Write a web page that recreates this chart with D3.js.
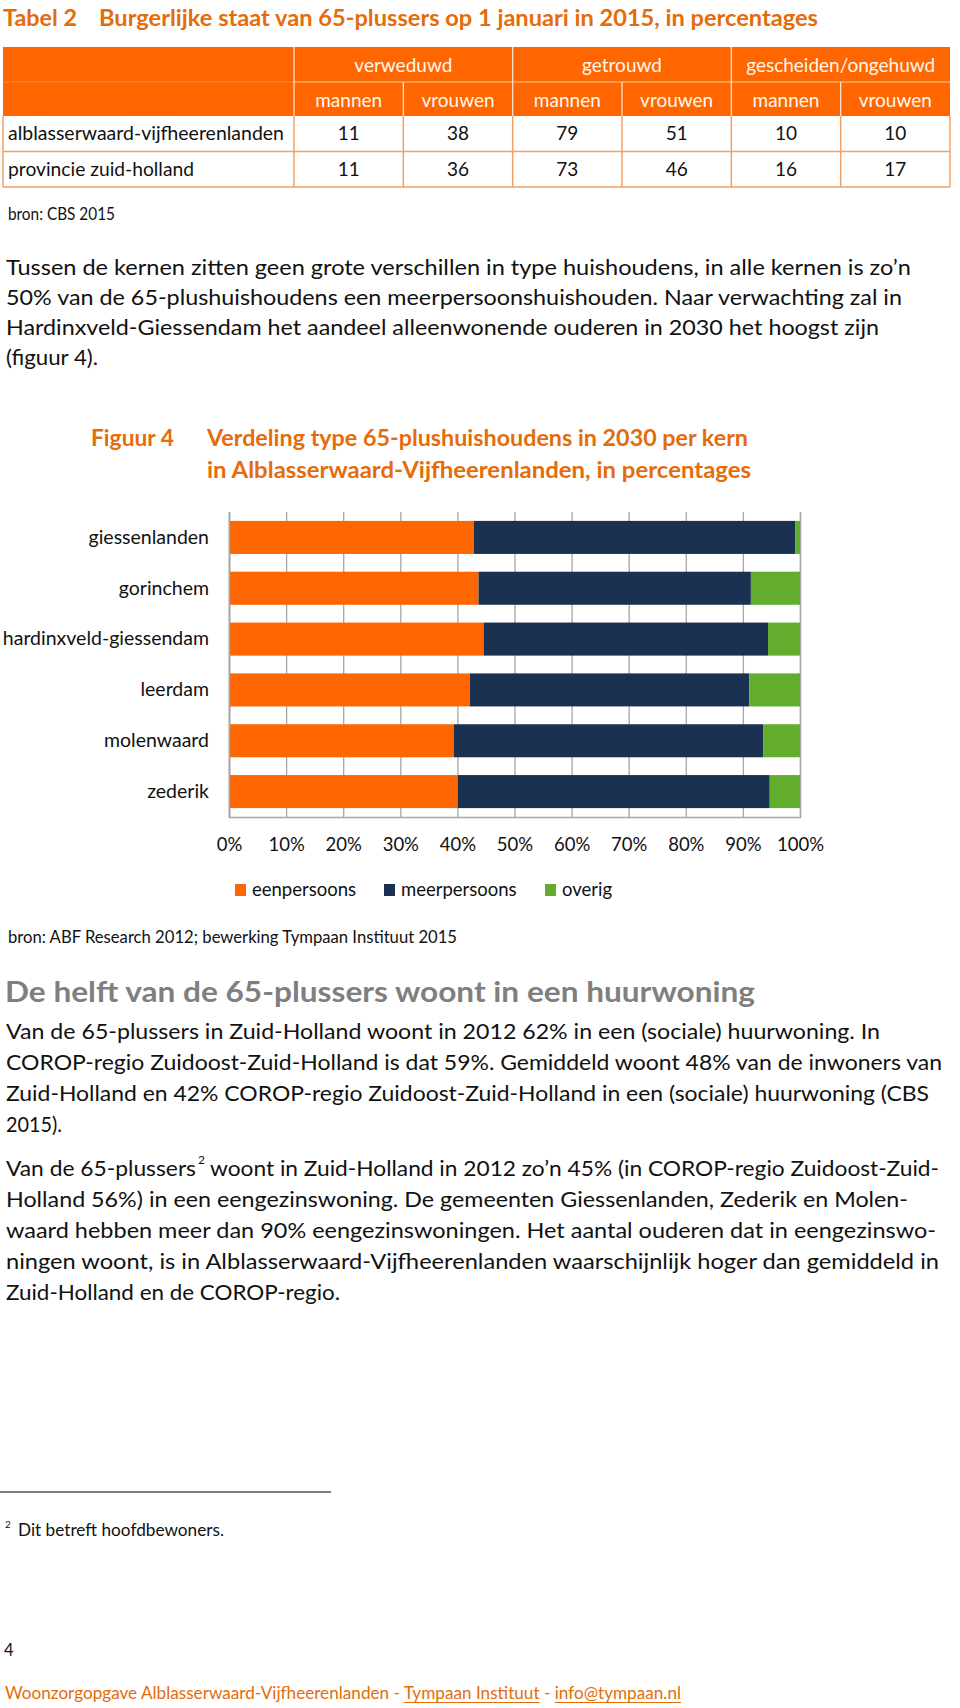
<!DOCTYPE html>
<html>
<head>
<meta charset="utf-8">
<script src="https://cdn.jsdelivr.net/npm/d3@7"></script>
<style>
  html, body { margin: 0; padding: 0; background: #fff; }
  svg { display: block; font-family: Lato, "Open Sans", sans-serif; }
</style>
</head>
<body>
<script>
// ---------- DATA ----------
const tableGroups = ["verweduwd", "getrouwd", "gescheiden/ongehuwd"];
const tableSub = ["mannen", "vrouwen"];
const tableRows = ["alblasserwaard-vijfheerenlanden", "provincie zuid-holland"];
const tableAV = [11, 38, 79, 51, 10, 10];
const tableZH = [11, 36, 73, 46, 16, 17];

const categories = ["giessenlanden", "gorinchem", "hardinxveld-giessendam", "leerdam", "molenwaard", "zederik"];
const eenpersoons = [42.9, 43.7, 44.6, 42.2, 39.4, 40.1];
const meerpersoons = [56.3, 47.7, 49.8, 48.9, 54.2, 54.6];
const overig = [0.8, 8.6, 5.6, 8.9, 6.4, 5.3];
const seriesNames = ["eenpersoons", "meerpersoons", "overig"];
const xTicks = [0, 10, 20, 30, 40, 50, 60, 70, 80, 90, 100];

// ---------- SETUP ----------
const W = 960, H = 1708;
const ORANGE_TXT = "#E46C0A";
const ORANGE = "#FF6600";
const NAVY = "#1B3151";
const GREEN = "#63AD2E";
const colors = [ORANGE, NAVY, GREEN];

const svg = d3.select("body").append("svg").attr("width", W).attr("height", H);

function txt(g, x, y, s, o = {}) {
  const t = g.append("text")
    .attr("x", x).attr("y", y).attr("dy", "0.35em")
    .attr("font-size", o.size || 18)
    .attr("font-weight", o.weight || "normal")
    .attr("fill", o.fill || "#111")
    .attr("text-anchor", o.anchor || "start")
    .text(s);
  if (o.width) t.attr("textLength", o.width).attr("lengthAdjust", "spacingAndGlyphs");
  return t;
}

// ---------- TITLE ----------
txt(svg, 3, 18, "Tabel 2", { size: 23, weight: "bold", fill: ORANGE_TXT, width: 74 });
txt(svg, 99, 18, "Burgerlijke staat van 65-plussers op 1 januari in 2015, in percentages",
  { size: 23, weight: "bold", fill: ORANGE_TXT, width: 719 });

// ---------- TABLE ----------
const tLeft = 3, tRight = 950, labelEnd = 294;
const tTop = 47, tMid = 82, tHead = 116, rowH = 35.5;
const colX = d3.scaleBand().domain(d3.range(6)).range([labelEnd, tRight]);
const tg = svg.append("g");
tg.append("rect").attr("x", tLeft).attr("y", tTop).attr("width", tRight - tLeft).attr("height", tHead - tTop).attr("fill", ORANGE);
// header lines
tg.append("line").attr("x1", labelEnd).attr("x2", tRight).attr("y1", tMid).attr("y2", tMid).attr("stroke", "#FFC9A0").attr("stroke-width", 1.2);
tg.append("line").attr("x1", tLeft).attr("x2", labelEnd).attr("y1", tMid).attr("y2", tMid).attr("stroke", "#FF8A3D").attr("stroke-width", 1);
tableGroups.forEach((gname, i) => {
  const x0 = colX(i * 2);
  tg.append("line").attr("x1", x0).attr("x2", x0).attr("y1", tTop).attr("y2", tHead).attr("stroke", "#FFE2CC").attr("stroke-width", 1.3);
  txt(tg, x0 + colX.bandwidth(), (tTop + tMid) / 2 + 1, gname, { size: 19, fill: "#FFF6EE", anchor: "middle" });
});
d3.range(6).forEach(i => {
  const x0 = colX(i);
  if (i % 2 === 1) tg.append("line").attr("x1", x0).attr("x2", x0).attr("y1", tMid).attr("y2", tHead).attr("stroke", "#FFE2CC").attr("stroke-width", 1.3);
  txt(tg, x0 + colX.bandwidth() / 2, (tMid + tHead) / 2 + 1, tableSub[i % 2], { size: 19, fill: "#FFF6EE", anchor: "middle" });
});
// body
const bodyVals = [tableAV, tableZH];
const lineCol = "#F3A163";
const labelWidths = [276, 186];
tableRows.forEach((r, ri) => {
  const yc = tHead + rowH * ri + rowH / 2;
  txt(tg, 8, yc, r, { size: 19, width: labelWidths[ri] });
  bodyVals[ri].forEach((v, ci) => {
    txt(tg, colX(ci) + colX.bandwidth() / 2, yc, String(v), { size: 19, anchor: "middle" });
  });
  tg.append("line").attr("x1", tLeft).attr("x2", tRight).attr("y1", tHead + rowH * (ri + 1)).attr("y2", tHead + rowH * (ri + 1)).attr("stroke", lineCol).attr("stroke-width", 1.5);
});
[tLeft, ...d3.range(6).map(i => colX(i)), tRight].forEach(x => {
  tg.append("line").attr("x1", x).attr("x2", x).attr("y1", tHead).attr("y2", tHead + rowH * 2).attr("stroke", lineCol).attr("stroke-width", 1.5);
});
txt(svg, 8, 214, "bron: CBS 2015", { size: 16.5, width: 107 });

// ---------- PARAGRAPH 1 ----------
const p1 = [
  ["Tussen de kernen zitten geen grote verschillen in type huishoudens, in alle kernen is zo’n", 268, 905],
  ["50% van de 65-plushuishoudens een meerpersoonshuishouden. Naar verwachting zal in", 298, 896],
  ["Hardinxveld-Giessendam het aandeel alleenwonende ouderen in 2030 het hoogst zijn", 328, 873],
  ["(figuur 4).", 358, 92]
];
p1.forEach(([s, y, w]) => txt(svg, 6, y, s, { size: 21, width: w }));

// ---------- FIGURE TITLE ----------
txt(svg, 91, 438, "Figuur 4", { size: 23, weight: "bold", fill: ORANGE_TXT, width: 83 });
txt(svg, 207, 438, "Verdeling type 65-plushuishoudens in 2030 per kern", { size: 23, weight: "bold", fill: ORANGE_TXT, width: 541 });
txt(svg, 207, 470, "in Alblasserwaard-Vijfheerenlanden, in percentages", { size: 23, weight: "bold", fill: ORANGE_TXT, width: 544 });

// ---------- CHART ----------
const px0 = 229, px1 = 800, py0 = 512, py1 = 817;
const x = d3.scaleLinear().domain([0, 100]).range([px0, px1]);
const y = d3.scaleBand().domain(categories).range([py0, py1]).paddingInner(0.35).paddingOuter(0.175);
const chart = svg.append("g");

// gridlines via axis
const gx = chart.append("g").attr("transform", `translate(0,${py1})`)
  .call(d3.axisBottom(x).tickValues(xTicks).tickSize(-(py1 - py0)).tickFormat(d => d + "%"));
gx.select(".domain").attr("stroke", "#A6A6A6").attr("stroke-width", 1.5);
gx.selectAll(".tick line").attr("stroke", "#A6A6A6").attr("stroke-width", 1.3);
gx.selectAll(".tick text").attr("y", 28).attr("dy", "0.35em").attr("font-size", 18.5).attr("fill", "#111").attr("font-family", "Lato, sans-serif");

// stacked bars
const rows = categories.map((c, i) => ({ cat: c, eenpersoons: eenpersoons[i], meerpersoons: meerpersoons[i], overig: overig[i] }));
const stack = d3.stack().keys(seriesNames)(rows);
chart.selectAll("g.series").data(stack).join("g").attr("class", "series")
  .attr("fill", (d, i) => colors[i])
  .selectAll("rect").data(d => d).join("rect")
  .attr("x", d => x(d[0]))
  .attr("width", d => x(d[1]) - x(d[0]))
  .attr("y", d => y(d.data.cat))
  .attr("height", y.bandwidth());

// left axis
const gy = chart.append("g").attr("transform", `translate(${px0},0)`)
  .call(d3.axisLeft(y).tickSize(0).tickPadding(20));
gy.select(".domain").attr("stroke", "#A6A6A6").attr("stroke-width", 1.5);
gy.selectAll(".tick text").attr("font-size", 19.5).attr("fill", "#111").attr("font-family", "Lato, sans-serif");

// legend
const legX = [235, 384, 545];
const lg = chart.append("g");
seriesNames.forEach((s, i) => {
  lg.append("rect").attr("x", legX[i]).attr("y", 884).attr("width", 11).attr("height", 12).attr("fill", colors[i]);
  txt(lg, legX[i] + 17, 890, s, { size: 18.5 });
});

txt(svg, 8, 937, "bron: ABF Research 2012; bewerking Tympaan Instituut 2015", { size: 16.5, width: 449 });

// ---------- HEADING + PARAGRAPH 2 ----------
txt(svg, 5, 992, "De helft van de 65-plussers woont in een huurwoning", { size: 28, weight: "bold", fill: "#7F7F7F", width: 750 });

const p2 = [
  ["Van de 65-plussers in Zuid-Holland woont in 2012 62% in een (sociale) huurwoning. In", 1032, 874],
  ["COROP-regio Zuidoost-Zuid-Holland is dat 59%. Gemiddeld woont 48% van de inwoners van", 1063, 936],
  ["Zuid-Holland en 42% COROP-regio Zuidoost-Zuid-Holland in een (sociale) huurwoning (CBS", 1094, 923],
  ["2015).", 1125, 56],
  ["Holland 56%) in een eengezinswoning. De gemeenten Giessenlanden, Zederik en Molen-", 1200, 902],
  ["waard hebben meer dan 90% eengezinswoningen. Het aantal ouderen dat in eengezinswo-", 1231, 930],
  ["ningen woont, is in Alblasserwaard-Vijfheerenlanden waarschijnlijk hoger dan gemiddeld in", 1262, 933],
  ["Zuid-Holland en de COROP-regio.", 1293, 334]
];
p2.forEach(([s, yy, w]) => txt(svg, 6, yy, s, { size: 21, width: w }));
// line with superscript, split into separate texts
txt(svg, 6, 1169, "Van de 65-plussers", { size: 21, width: 190 });
txt(svg, 198, 1160, "2", { size: 12 });
txt(svg, 210, 1169, "woont in Zuid-Holland in 2012 zo’n 45% (in COROP-regio Zuidoost-Zuid-", { size: 21, width: 729 });

// ---------- FOOTNOTE ----------
svg.append("line").attr("x1", 0).attr("x2", 331).attr("y1", 1492).attr("y2", 1492).attr("stroke", "#000").attr("stroke-width", 1.2);
txt(svg, 5, 1524, "2", { size: 10 });
txt(svg, 18, 1530, "Dit betreft hoofdbewoners.", { size: 16.5, width: 206 });
txt(svg, 4, 1650, "4", { size: 16.5 });

// ---------- FOOTER (single text, underlines measured from glyph positions) ----------
const fy = 1693;
const footerStr = "Woonzorgopgave Alblasserwaard-Vijfheerenlanden - Tympaan Instituut - info@tympaan.nl";
const ft = txt(svg, 5, fy, footerStr, { size: 18, fill: ORANGE_TXT, width: 676 });
const ftNode = ft.node();
["Tympaan Instituut", "info@tympaan.nl"].forEach(sub => {
  const i0 = footerStr.indexOf(sub), i1 = i0 + sub.length - 1;
  let a, b;
  try {
    a = ftNode.getStartPositionOfChar(i0).x;
    b = ftNode.getEndPositionOfChar(i1).x;
  } catch (e) { a = 0; b = 0; }
  svg.append("line").attr("x1", a).attr("x2", b).attr("y1", fy + 9.5).attr("y2", fy + 9.5)
    .attr("stroke", ORANGE_TXT).attr("stroke-width", 1.2);
});
</script>
</body>
</html>
